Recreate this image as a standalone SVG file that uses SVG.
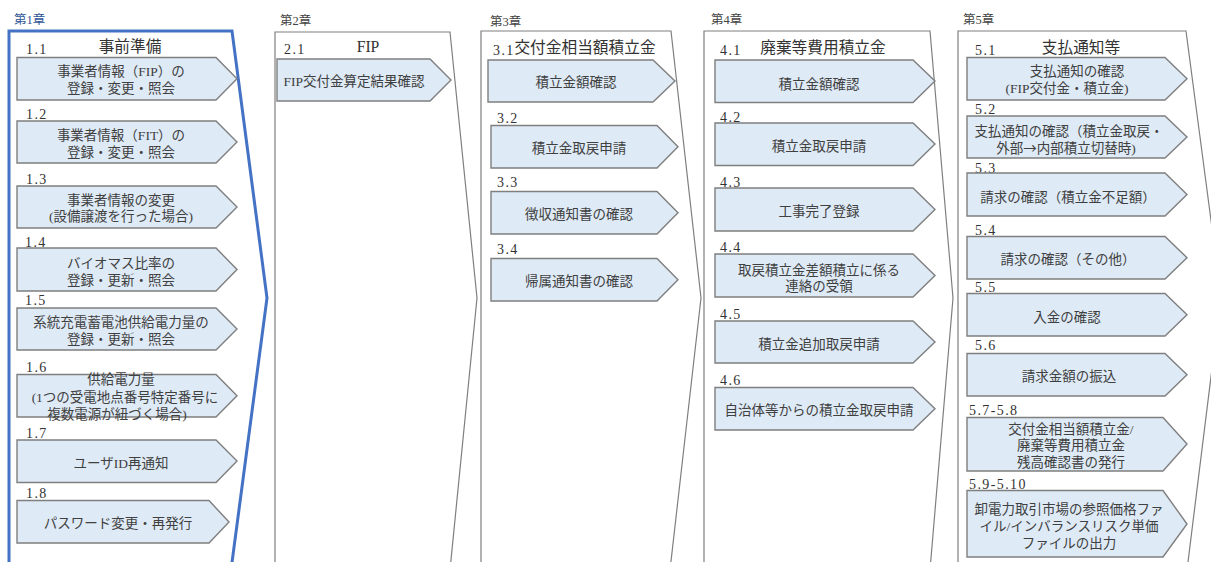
<svg xmlns="http://www.w3.org/2000/svg" width="1211" height="562" viewBox="0 0 1211 562">
<style>
text{font-family:"Liberation Serif","Noto Sans CJK JP",serif;fill:#404040;font-size:13.5px;text-anchor:middle;font-weight:400}
.panel{fill:#fff;stroke:#7f7f7f;stroke-width:1.2}
.blue{stroke:#4472c4;stroke-width:3}
.box{fill:#deeaf6;stroke:#7f7f7f;stroke-width:1.4}
text.ch{font-size:12.5px;text-anchor:start;fill:#444}
text.chb{font-size:12.5px;text-anchor:start;fill:#2f5597}
text.title{font-size:15.7px;fill:#333}
text.num{font-size:14px;text-anchor:start;letter-spacing:1.4px;fill:#333}
tspan.cjk{font-family:"Noto Sans CJK JP",sans-serif}
</style>
<rect width="1211" height="562" fill="#fff"/>
<g id="chapter1">
<polygon class="panel blue" points="9,31 232,31 267,298 231,570 9,570"/>
<text class="chb" x="14" y="24">第1章</text>
<text class="title" x="130" y="52">事前準備</text>
</g>
<g id="chapter2">
<polygon class="panel" points="275,32 450,32 477,298 450,570 275,570"/>
<text class="ch" x="280" y="25">第2章</text>
<text class="title" x="368" y="52">FIP</text>
</g>
<g id="chapter3">
<polygon class="panel" points="481,31 671,31 701,298 670,570 481,570"/>
<text class="ch" x="490" y="26">第3章</text>
<text class="title" x="585" y="53">交付金相当額積立金</text>
</g>
<g id="chapter4">
<polygon class="panel" points="704,31 930,31 953,298 930,570 704,570"/>
<text class="ch" x="711" y="24">第4章</text>
<text class="title" x="823" y="53">廃棄等費用積立金</text>
</g>
<g id="chapter5">
<polygon class="panel" points="958,31 1186,31 1221,296 1187,570 958,570"/>
<text class="ch" x="963" y="24">第5章</text>
<text class="title" x="1081" y="53">支払通知等</text>
</g>

<g id="n1-1"><text class="num" x="26" y="53.5">1.1</text><polygon class="box" points="17,57.5 216,57.5 237,78.7 216,100 17,100"/><text x="121" y="76">事業者情報（FIP）の</text><text x="121" y="93">登録・変更・照会</text></g>
<g id="n1-2"><text class="num" x="26" y="118.5">1.2</text><polygon class="box" points="17,121 216,121 237,142 216,163 17,163"/><text x="121" y="140">事業者情報（FIT）の</text><text x="121" y="157">登録・変更・照会</text></g>
<g id="n1-3"><text class="num" x="26" y="183.5">1.3</text><polygon class="box" points="17,186 216,186 237,207 216,228 17,228"/><text x="121" y="205">事業者情報の変更</text><text x="121" y="221">(設備譲渡を行った場合)</text></g>
<g id="n1-4"><text class="num" x="25" y="246.5">1.4</text><polygon class="box" points="17,248 216,248 237,269.5 216,291 17,291"/><text x="121" y="268">バイオマス比率の</text><text x="121" y="285">登録・更新・照会</text></g>
<g id="n1-5"><text class="num" x="25" y="305">1.5</text><polygon class="box" points="17,308 216,308 237,329 216,350 17,350"/><text x="121" y="327">系統充電蓄電池供給電力量の</text><text x="121" y="344">登録・更新・照会</text></g>
<g id="n1-6"><text class="num" x="26" y="372">1.6</text><polygon class="box" points="17,374.5 216,374.5 237,395.7 216,417 17,417"/><text x="121" y="384">供給電力量</text><text x="125" y="402">(1つの受電地点番号特定番号に</text><text x="117" y="419">複数電源が紐づく場合)</text></g>
<g id="n1-7"><text class="num" x="26" y="438">1.7</text><polygon class="box" points="17,440 216,440 237,461 216,482.5 17,482.5"/><text x="121" y="468">ユーザID再通知</text></g>
<g id="n1-8"><text class="num" x="26" y="498">1.8</text><polygon class="box" points="17,500.5 209,500.5 229,522 209,543 17,543"/><text x="118" y="528">パスワード変更・再発行</text></g>

<g id="n2-1"><text class="num" x="284" y="54">2.1</text><polygon class="box" points="277,59 430,59 451,80 430,101 277,101"/><text x="354" y="86">FIP交付金算定結果確認</text></g>

<g id="n3-1"><text class="num" x="493" y="55">3.1</text><polygon class="box" points="488,60 653,60 675,81 653,102 488,102"/><text x="576" y="87">積立金額確認</text></g>
<g id="n3-2"><text class="num" x="497" y="123">3.2</text><polygon class="box" points="491,125.5 657,125.5 678,146.7 657,168 491,168"/><text x="579" y="153">積立金取戻申請</text></g>
<g id="n3-3"><text class="num" x="497" y="187">3.3</text><polygon class="box" points="491,191.5 657,191.5 678,212.7 657,234 491,234"/><text x="579" y="219">徴収通知書の確認</text></g>
<g id="n3-4"><text class="num" x="497" y="254">3.4</text><polygon class="box" points="491,258.5 657,258.5 678,279.7 657,301 491,301"/><text x="579" y="286">帰属通知書の確認</text></g>

<g id="n4-1"><text class="num" x="720" y="55">4.1</text><polygon class="box" points="715,60 913,60 935,81 913,102.5 715,102.5"/><text x="819" y="89">積立金額確認</text></g>
<g id="n4-2"><text class="num" x="720" y="122">4.2</text><polygon class="box" points="715,123 913,123 935,144 913,165.5 715,165.5"/><text x="819" y="151">積立金取戻申請</text></g>
<g id="n4-3"><text class="num" x="720" y="187">4.3</text><polygon class="box" points="715,188 913,188 935,209.5 913,231 715,231"/><text x="819" y="216">工事完了登録</text></g>
<g id="n4-4"><text class="num" x="720" y="252">4.4</text><polygon class="box" points="715,254 913,254 935,275.5 913,297 715,297"/><text x="819" y="275">取戻積立金差額積立に係る</text><text x="819" y="291">連絡の受領</text></g>
<g id="n4-5"><text class="num" x="720" y="319">4.5</text><polygon class="box" points="715,321 913,321 935,342 913,363 715,363"/><text x="819" y="349">積立金追加取戻申請</text></g>
<g id="n4-6"><text class="num" x="720" y="385">4.6</text><polygon class="box" points="715,387.5 913,387.5 935,408.7 913,430 715,430"/><text x="819" y="415">自治体等からの積立金取戻申請</text></g>

<g id="n5-1"><text class="num" x="975" y="55">5.1</text><polygon class="box" points="967,57.5 1165,57.5 1187,78.7 1165,100 967,100"/><text x="1077" y="76">支払通知の確認</text><text x="1067" y="93">(FIP交付金・積立金)</text></g>
<g id="n5-2"><text class="num" x="975" y="114">5.2</text><polygon class="box" points="967,116 1165,116 1187,137 1165,158 967,158"/><text x="1069" y="136">支払通知の確認（積立金取戻・</text><text x="1066" y="153">外部<tspan class="cjk">→</tspan>内部積立切替時)</text></g>
<g id="n5-3"><text class="num" x="975" y="172.5">5.3</text><polygon class="box" points="967,173 1165,173 1187,194.5 1165,216 967,216"/><text x="1068" y="202">請求の確認（積立金不足額）</text></g>
<g id="n5-4"><text class="num" x="975" y="235">5.4</text><polygon class="box" points="967,236.5 1165,236.5 1187,257.7 1165,279 967,279"/><text x="1068" y="264">請求の確認（その他）</text></g>
<g id="n5-5"><text class="num" x="975" y="292">5.5</text><polygon class="box" points="967,293.5 1165,293.5 1187,314.7 1165,336 967,336"/><text x="1067" y="322">入金の確認</text></g>
<g id="n5-6"><text class="num" x="975" y="350">5.6</text><polygon class="box" points="967,353.5 1165,353.5 1187,374.7 1165,396 967,396"/><text x="1069" y="381">請求金額の振込</text></g>
<g id="n5-7"><text class="num" x="969" y="415">5.7-5.8</text><polygon class="box" points="967,417.5 1163,417.5 1187,444 1163,471 967,471"/><text x="1071" y="434">交付金相当額積立金/</text><text x="1071" y="450">廃棄等費用積立金</text><text x="1071" y="467">残高確認書の発行</text></g>
<g id="n5-9"><text class="num" x="969" y="489">5.9-5.10</text><polygon class="box" points="967,490.5 1163,490.5 1187,524 1163,557 967,557"/><text x="1069" y="514">卸電力取引市場の参照価格ファ</text><text x="1069" y="531">イル/インバランスリスク単価</text><text x="1069" y="548">ファイルの出力</text></g>
</svg>
